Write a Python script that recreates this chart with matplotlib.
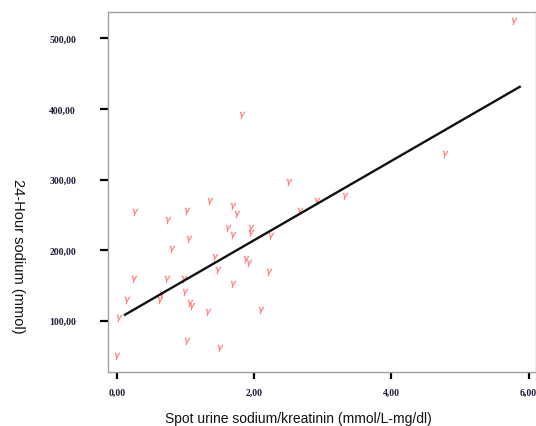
import matplotlib
matplotlib.use("Agg")
import matplotlib.pyplot as plt
import numpy as np

# Data
spot_ratio = [0.01, 0.03, 0.15, 0.25, 0.27, 0.63, 0.66, 0.73, 0.75, 0.80,
              0.98, 0.99, 1.02, 1.02, 1.05, 1.07, 1.09, 1.33, 1.36, 1.43,
              1.47, 1.51, 1.62, 1.69, 1.69, 1.69, 1.75, 1.82, 1.89, 1.93,
              1.96, 1.96, 2.10, 2.22, 2.25, 2.51, 2.67, 2.92, 3.33, 4.78, 5.78]
sodium_24h = [50.8, 104.2, 128.8, 159.4, 253.5, 128.8, 138.2, 159.4, 243.3, 202.3,
              158.7, 140.5, 255.9, 71.1, 216.4, 124.7, 120.8, 112.0, 270.3, 190.2,
              172.5, 61.0, 231.7, 152.0, 262.5, 221.9, 250.7, 391.4, 187.4, 181.5,
              231.0, 224.2, 115.1, 169.7, 220.4, 296.0, 255.4, 270.0, 276.6, 336.1, 524.1]
fit_x = [0.12, 5.87]
fit_y = [108.5, 431.4]
x_ticks = [0, 2, 4, 6]
y_ticks = [100, 200, 300, 400, 500]

fig = plt.figure(figsize=(5.36, 4.27), dpi=100)
ax = fig.add_axes([108/536, 1-373.3/427, (535.5-108)/536, (373.3-13.3)/427])

ax.scatter(spot_ratio, sodium_24h, marker=r'$\gamma$', s=26, color='#ff6b6b',
           linewidths=0.3, alpha=0.8, zorder=3)
ax.plot(fit_x, fit_y, color='#111111', lw=1.7, zorder=4)

ax.set_xlim(-0.127, 6.1)
ax.set_ylim(27, 537)
ax.set_xticks(x_ticks)
ax.set_yticks(y_ticks)
ax.set_xticklabels([f"{v:.2f}".replace('.', ',') for v in x_ticks])
ax.set_yticklabels([f"{v:.2f}".replace('.', ',') for v in y_ticks])

for lab in ax.get_xticklabels() + ax.get_yticklabels():
    lab.set_fontfamily('Liberation Serif')
    lab.set_fontweight('bold')
    lab.set_fontsize(7)
    lab.set_color('#1c1c3a')

ax.tick_params(axis='y', direction='out', length=6, width=1.6, color='black', pad=17)
ax.tick_params(axis='x', direction='out', length=5, width=1.6, color='black', pad=6)

for sp in ax.spines.values():
    sp.set_color('#a0a0a0')
    sp.set_linewidth(1.0)

fig.text(298/536, 1-419/427, 'Spot urine sodium/kreatinin (mmol/L-mg/dl)',
         ha='center', va='center', fontsize=10, family='Liberation Sans', color='#111111')
fig.text(18/536, 1-256/427, '24-Hour sodium (mmol)', rotation=270,
         ha='center', va='center', fontsize=10.5, family='Liberation Sans', color='#111111')

fig.savefig('out.png', dpi=100)
